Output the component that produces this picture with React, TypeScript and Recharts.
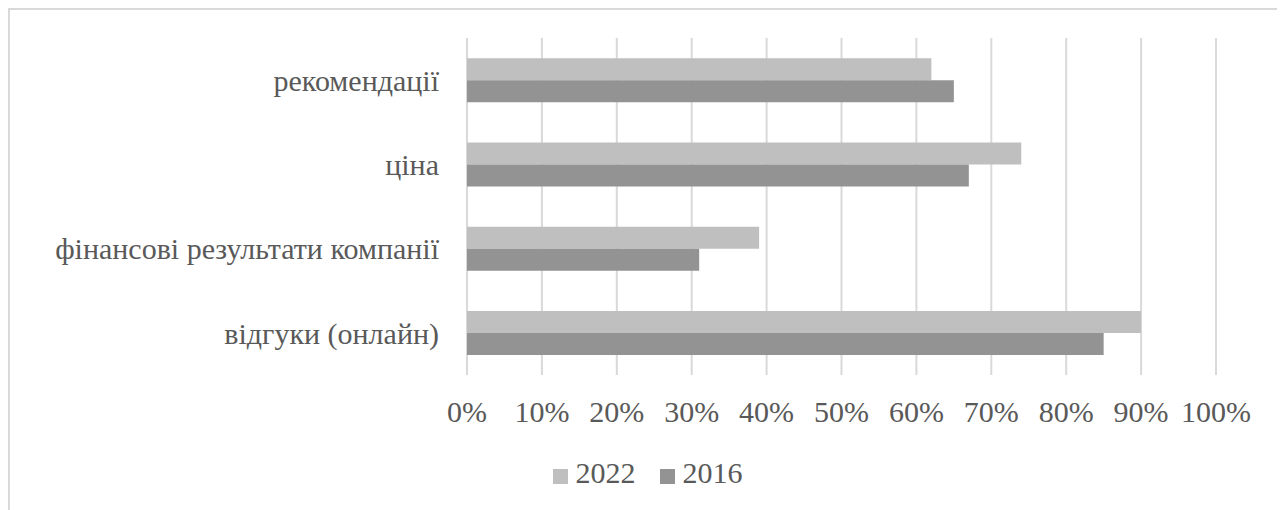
import { BarChart, Bar, XAxis, YAxis, CartesianGrid, Legend } from "recharts";

// Categories top to bottom, values in percent
const categories = ["рекомендації ", "ціна", "фінансові результати компанії", "відгуки (онлайн)"];
const seriesNames = ["2022", "2016"];
const values2022 = [62, 74, 39, 90];
const values2016 = [65, 67, 31, 85];
const xTicks = [0, 10, 20, 30, 40, 50, 60, 70, 80, 90, 100];

const data = categories.map((name, i) => ({
  name,
  y2022: values2022[i],
  y2016: values2016[i],
}));

const FONT = "Liberation Serif, Tinos, DejaVu Serif, serif";
const TEXT = "#595959";

export default function App() {
  return (
    <div
      style={{
        width: 1271,
        height: 520,
        border: "2px solid #d9d9d9",
        background: "#fff",
        fontFamily: FONT,
      }}
    >
      <BarChart
        width={1271}
        height={500}
        data={data}
        layout="vertical"
        margin={{ top: 28, right: 65, bottom: 20, left: 0 }}
        barCategoryGap="24%"
        barGap={0}
      >
        <CartesianGrid horizontal={false} stroke="#d9d9d9" strokeWidth={2} />
        <XAxis
          type="number"
          domain={[0, 100]}
          ticks={xTicks}
          tickFormatter={(v: number) => `${v}%`}
          axisLine={false}
          tickLine={false}
          tickSize={0}
          tickMargin={26}
          height={81}
          tick={{ fill: TEXT, fontSize: 30, fontFamily: FONT }}
          interval={0}
        />
        <YAxis
          type="category"
          dataKey="name"
          width={457}
          axisLine={false}
          tickLine={false}
          tickSize={0}
          tickMargin={28}
          tick={{ fill: TEXT, fontSize: 30, fontFamily: FONT }}
        />
        <Legend
          verticalAlign="bottom"
          align="center"
          iconType="square"
          iconSize={15}
          itemSorter={(item: any) => seriesNames.indexOf(String(item.value))}
          wrapperStyle={{ left: 14, width: 1271, fontFamily: FONT, fontSize: 30 }}
          formatter={(value: string) => (
            <span style={{ color: TEXT, marginLeft: 4, marginRight: 14 }}>{value}</span>
          )}
        />
        <Bar dataKey="y2022" name="2022" fill="#bfbfbf" isAnimationActive={false} />
        <Bar dataKey="y2016" name="2016" fill="#939393" isAnimationActive={false} />
      </BarChart>
    </div>
  );
}
